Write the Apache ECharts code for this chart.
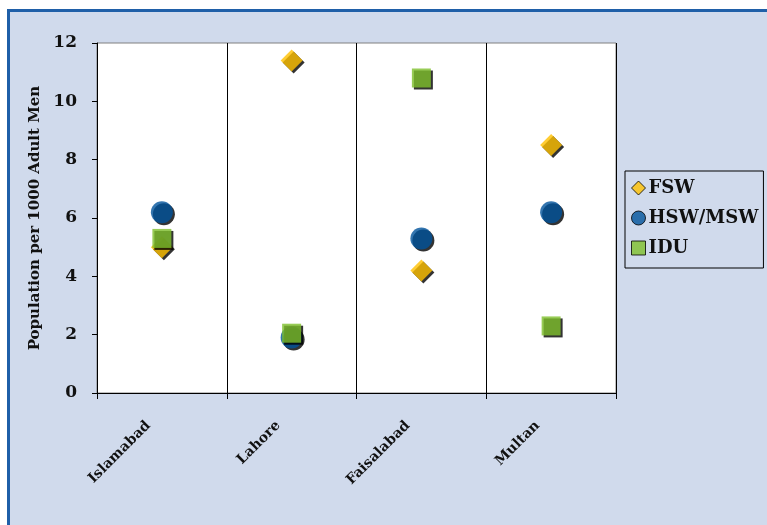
<!DOCTYPE html>
<html>
<head>
<meta charset="utf-8">
<script src="https://cdn.jsdelivr.net/npm/echarts@6/dist/echarts.min.js"></script>
<style>
  html, body { margin: 0; padding: 0; background: #fff; overflow: hidden; }
  #chart { width: 767px; height: 525px; }
</style>
</head>
<body>
<div id="chart"></div>
<script>
// 城市分类与三组人群估计（每千名成年男性）
const cities = ['Islamabad', 'Lahore', 'Faisalabad', 'Multan']
const fsw = [5.0, 11.4, 4.2, 8.5]
const hswMsw = [6.2, 1.9, 5.3, 6.2]
const idu = [5.3, 2.05, 10.8, 2.3]
const yTicks = [0, 2, 4, 6, 8, 10, 12]

const FONT = 'DejaVu Serif'
// 标记阴影：无描边，避免描边阴影压在填充上
const shadow = { shadowColor: '#000', shadowOffsetX: 2, shadowOffsetY: 2, shadowBlur: 0 }

const chart = echarts.init(document.getElementById('chart'))
chart.setOption({
  backgroundColor: '#fff',
  animation: false,
  // 外框面板：浅蓝底 + 左/上蓝色边
  graphic: [
    { type: 'rect', z: -10, shape: { x: 8, y: 10, width: 759, height: 515 }, style: { fill: '#D0DAEC', stroke: null } },
    { type: 'rect', z: -9, shape: { x: 7, y: 9, width: 3, height: 516 }, style: { fill: '#1F5FA8', stroke: null } },
    { type: 'rect', z: -9, shape: { x: 7, y: 9, width: 760, height: 3 }, style: { fill: '#1F5FA8', stroke: null } },
  ],
  grid: { left: 97, right: 151, top: 43, bottom: 132, show: true, backgroundColor: '#fff', borderColor: '#808080', borderWidth: 1 },
  legend: {
    orient: 'vertical', left: 625, top: 171,
    padding: [8, 5, 11, 6], itemGap: 12, itemWidth: 14, itemHeight: 14,
    backgroundColor: '#D0DAEC', borderColor: '#000', borderWidth: 1,
    itemStyle: { borderColor: '#000', borderWidth: 1 },
    textStyle: { fontFamily: FONT, fontWeight: 'bold', fontSize: 18, color: '#111', padding: [0, 0, 0, -2] },
    data: [
      { name: 'FSW', icon: 'diamond' },
      { name: 'HSW/MSW', icon: 'circle' },
      { name: 'IDU', icon: 'rect' },
    ],
  },
  xAxis: {
    type: 'category', data: cities, boundaryGap: true,
    axisLine: { lineStyle: { color: '#000', width: 1 } },
    axisTick: { show: true, length: 6, lineStyle: { color: '#000' } },
    splitLine: { show: true, lineStyle: { color: '#000', width: 1 } },
    axisLabel: { rotate: 45, margin: 17, padding: [0, 19, 0, 0], fontFamily: FONT, fontWeight: 'bold', fontSize: 14, color: '#111' },
  },
  yAxis: {
    type: 'value', min: 0, max: 12, interval: 2,
    name: 'Population per 1000 Adult Men', nameLocation: 'middle', nameGap: 53,
    nameTextStyle: { fontFamily: FONT, fontWeight: 'bold', fontSize: 15, color: '#111' },
    axisLine: { show: true, lineStyle: { color: '#000', width: 1 } },
    axisTick: { show: true, length: 5, lineStyle: { color: '#000' } },
    splitLine: { show: false },
    axisLabel: { margin: 20, fontFamily: FONT, fontWeight: 'bold', fontSize: 17, color: '#111',
      formatter: v => yTicks.includes(v) ? String(v) : '' },
  },
  series: [
    { name: 'FSW', type: 'scatter', symbol: 'diamond', symbolSize: 22, data: fsw, z: 3,
      itemStyle: Object.assign({ color: '#FFC000', borderWidth: 0 }, shadow) },
    { name: 'HSW/MSW', type: 'scatter', symbol: 'circle', symbolSize: 22, data: hswMsw, z: 4,
      itemStyle: Object.assign({ color: '#00529B', borderWidth: 0 }, shadow) },
    { name: 'IDU', type: 'scatter', symbol: 'rect', symbolSize: 19, data: idu, z: 5,
      itemStyle: Object.assign({ color: '#7EBF2C', borderWidth: 0 }, shadow) },
  ],
})
</script>
</body>
</html>
